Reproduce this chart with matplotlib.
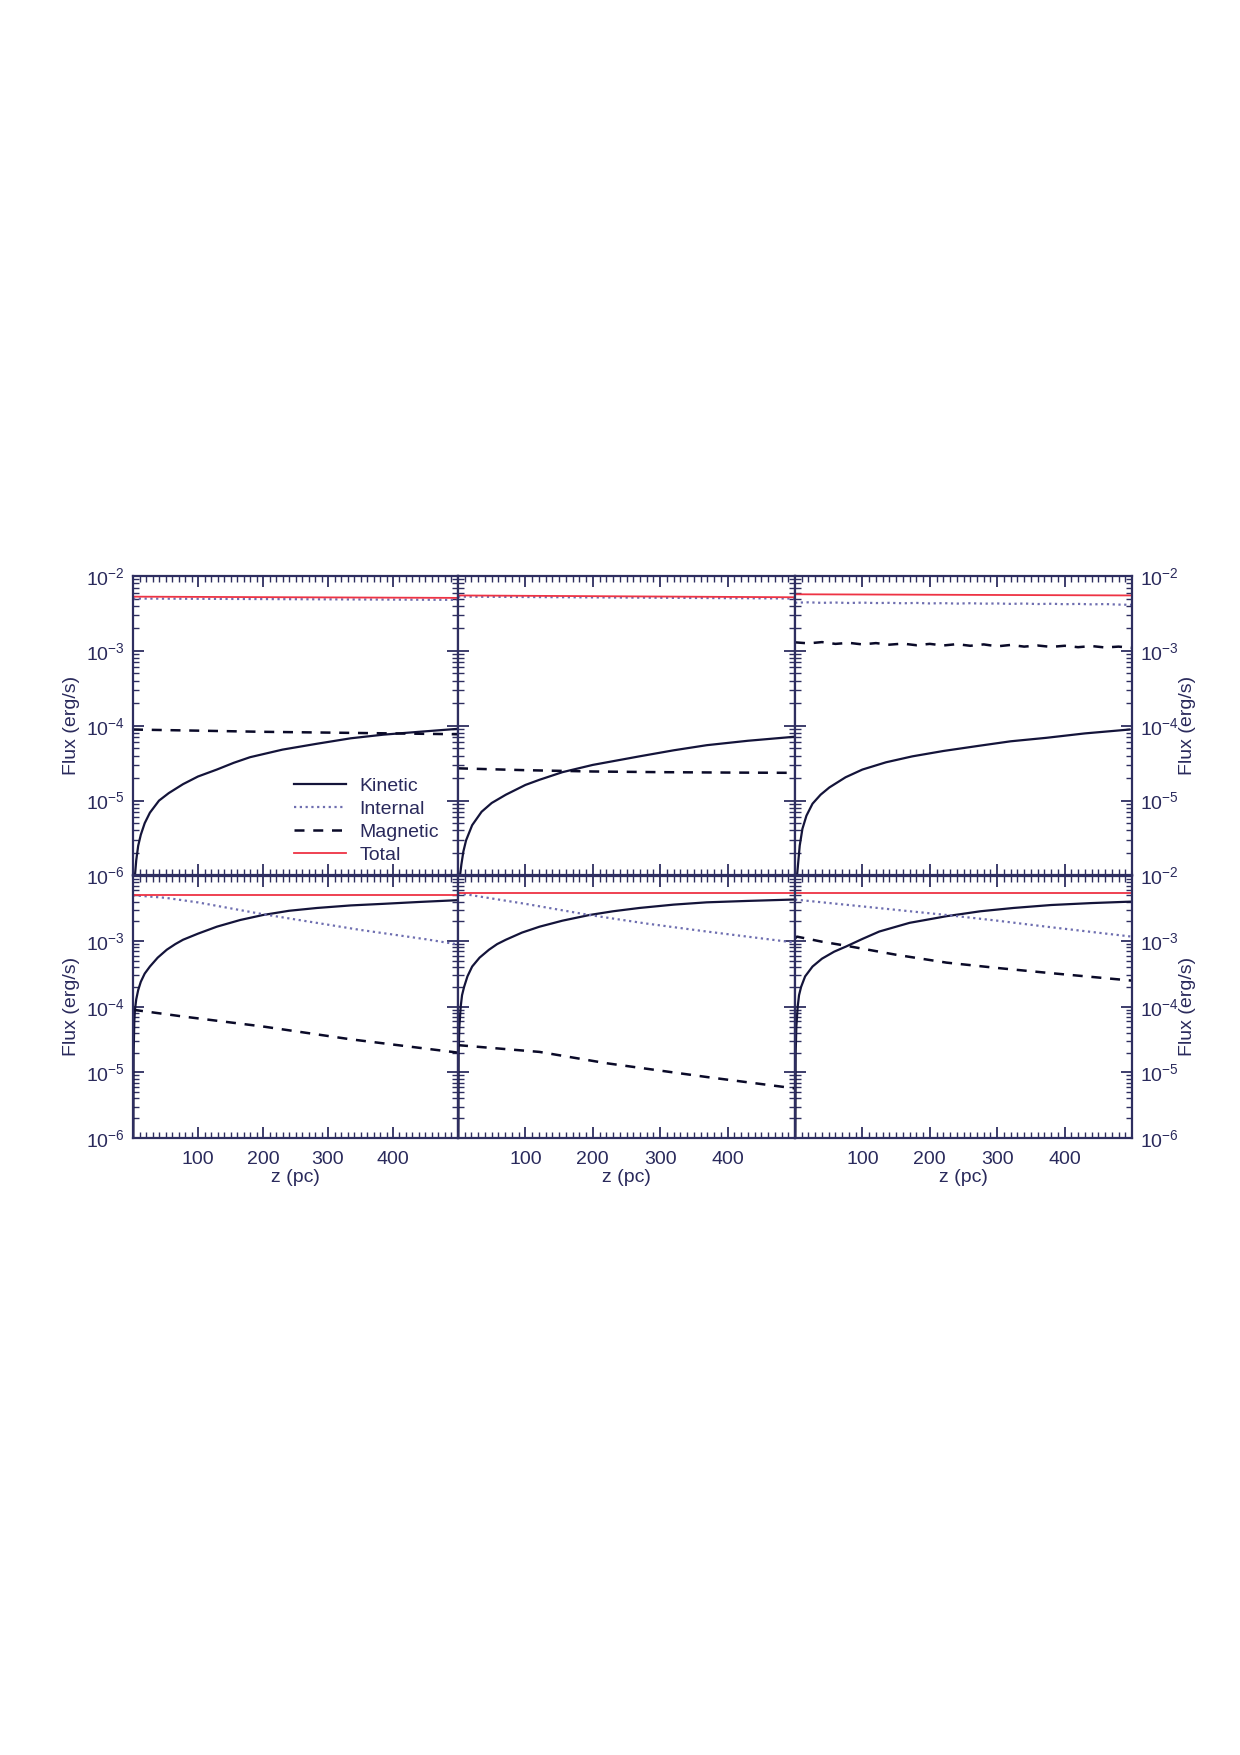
import matplotlib
matplotlib.use("Agg")
import matplotlib.pyplot as plt
from matplotlib.ticker import MultipleLocator, LogLocator, FuncFormatter, NullFormatter
import numpy as np

plt.rcParams['font.family'] = ['Liberation Sans', 'DejaVu Sans']
plt.rcParams['mathtext.default'] = 'regular'

# ---- data (flux in erg/s, z in pc) ----
# top row
p1_kin_z = [0.5, 3, 5, 8, 12, 18, 26, 40, 55, 77, 100, 129, 155, 180, 230, 283,
            335, 385, 440, 500]
p1_kin = [3e-7, 1.0e-6, 1.6e-6, 2.5e-6, 3.5e-6, 5.0e-6, 6.9e-6, 1.0e-5, 1.26e-5,
          1.66e-5, 2.1e-5, 2.6e-5, 3.2e-5, 3.8e-5, 4.8e-5, 5.75e-5, 6.8e-5,
          7.6e-5, 8.3e-5, 9.1e-5]
p1_int_z = [0, 500]
p1_int = [5.0e-3, 4.8e-3]
p1_mag_z = [0, 100, 200, 300, 400, 500]
p1_mag = [8.9e-5, 8.6e-5, 8.3e-5, 8.1e-5, 7.9e-5, 7.7e-5]
p1_tot_z = [0, 500]
p1_tot = [5.3e-3, 5.1e-3]

p2_kin_z = [0.5, 3, 5, 8, 12, 21, 35, 50, 71, 100, 121, 155, 200, 269, 320, 369,
            430, 497]
p2_kin = [3e-7, 1.0e-6, 1.4e-6, 2.1e-6, 2.95e-6, 4.7e-6, 7.1e-6, 9.3e-6, 1.2e-5,
          1.62e-5, 1.9e-5, 2.4e-5, 3.0e-5, 3.9e-5, 4.7e-5, 5.5e-5, 6.3e-5, 7.1e-5]
p2_int_z = [0, 500]
p2_int = [5.3e-3, 5.0e-3]
p2_mag_z = [0, 100, 200, 300, 400, 500]
p2_mag = [2.7e-5, 2.55e-5, 2.45e-5, 2.4e-5, 2.37e-5, 2.35e-5]
p2_tot_z = [0, 500]
p2_tot = [5.5e-3, 5.2e-3]

p3_kin_z = [0.5, 2, 4, 7, 11, 17, 26, 38, 51, 75, 100, 135, 174, 220, 273, 320,
            373, 430, 496]
p3_kin = [3e-7, 8e-7, 1.25e-6, 2.5e-6, 4.2e-6, 6.3e-6, 9.1e-6, 1.2e-5, 1.5e-5,
          2.05e-5, 2.6e-5, 3.25e-5, 3.9e-5, 4.6e-5, 5.4e-5, 6.2e-5, 6.9e-5,
          7.9e-5, 8.9e-5]
p3_int_z = list(range(0, 501, 20))
p3_int = [4.40e-3, 4.45e-3, 4.38e-3, 4.42e-3, 4.36e-3, 4.41e-3, 4.35e-3, 4.38e-3,
          4.32e-3, 4.37e-3, 4.30e-3, 4.34e-3, 4.28e-3, 4.33e-3, 4.27e-3, 4.30e-3,
          4.24e-3, 4.29e-3, 4.22e-3, 4.26e-3, 4.20e-3, 4.24e-3, 4.18e-3, 4.22e-3,
          4.15e-3, 4.12e-3]
p3_mag_z = list(range(0, 501, 20))
p3_mag = [1.30e-3, 1.26e-3, 1.31e-3, 1.24e-3, 1.28e-3, 1.22e-3, 1.27e-3, 1.21e-3,
          1.25e-3, 1.19e-3, 1.24e-3, 1.18e-3, 1.23e-3, 1.17e-3, 1.22e-3, 1.15e-3,
          1.20e-3, 1.14e-3, 1.18e-3, 1.13e-3, 1.17e-3, 1.12e-3, 1.16e-3, 1.11e-3,
          1.14e-3, 1.10e-3]
p3_tot_z = [0, 500]
p3_tot = [5.7e-3, 5.5e-3]

# bottom row
p4_kin_z = [0.3, 1, 2, 3, 5, 8, 12, 18, 26, 38, 52, 65, 77, 100, 129, 165, 200,
            240, 283, 335, 385, 440, 498]
p4_kin = [1e-7, 2e-5, 6e-5, 9e-5, 1.3e-4, 1.8e-4, 2.4e-4, 3.2e-4, 4.1e-4, 5.6e-4,
          7.4e-4, 9.0e-4, 1.05e-3, 1.3e-3, 1.66e-3, 2.1e-3, 2.5e-3, 2.9e-3,
          3.2e-3, 3.5e-3, 3.7e-3, 3.95e-3, 4.2e-3]
p4_int_z = [0, 50, 100, 150, 200, 250, 300, 350, 400, 450, 500]
p4_int = [5.0e-3, 4.57e-3, 3.89e-3, 3.16e-3, 2.57e-3, 2.14e-3, 1.78e-3, 1.48e-3,
          1.26e-3, 1.07e-3, 8.9e-4]
p4_mag_z = [0, 77, 200, 334, 500]
p4_mag = [9.0e-5, 7.1e-5, 5.0e-5, 3.2e-5, 2.0e-5]
p4_tot_z = [0, 500]
p4_tot = [5.1e-3, 5.1e-3]

p5_kin_z = [0.3, 1, 2, 4, 6, 9, 14, 21, 32, 46, 58, 71, 95, 121, 155, 195, 230,
            269, 320, 369, 430, 497]
p5_kin = [1e-7, 2e-5, 5e-5, 1.0e-4, 1.5e-4, 2.0e-4, 2.9e-4, 4.1e-4, 5.6e-4,
          7.4e-4, 9.0e-4, 1.05e-3, 1.35e-3, 1.66e-3, 2.05e-3, 2.5e-3, 2.85e-3,
          3.2e-3, 3.6e-3, 3.9e-3, 4.1e-3, 4.3e-3]
p5_int_z = [0, 100, 195, 280, 369, 500]
p5_int = [5.4e-3, 3.7e-3, 2.5e-3, 1.85e-3, 1.4e-3, 9.5e-4]
p5_mag_z = [0, 121, 220, 369, 500]
p5_mag = [2.6e-5, 2.05e-5, 1.38e-5, 8.5e-6, 5.7e-6]
p5_tot_z = [0, 500]
p5_tot = [5.4e-3, 5.4e-3]

p6_kin_z = [0.3, 1, 2, 4, 6, 9, 15, 26, 40, 58, 76, 100, 125, 170, 225, 275, 324,
            380, 440, 499]
p6_kin = [1e-7, 2e-5, 5e-5, 1.0e-4, 1.5e-4, 2.0e-4, 2.9e-4, 4.1e-4, 5.4e-4,
          6.9e-4, 8.3e-4, 1.08e-3, 1.4e-3, 1.9e-3, 2.4e-3, 2.85e-3, 3.2e-3,
          3.55e-3, 3.8e-3, 4.0e-3]
p6_int_z = [0, 110, 225, 300, 373, 500]
p6_int = [4.3e-3, 3.3e-3, 2.5e-3, 2.05e-3, 1.66e-3, 1.17e-3]
p6_mag_z = [0, 3, 40, 76, 150, 225, 300, 373, 500]
p6_mag = [1.1e-3, 1.17e-3, 9.8e-4, 8.5e-4, 6.2e-4, 4.7e-4, 3.9e-4, 3.3e-4, 2.5e-4]
p6_tot_z = [0, 500]
p6_tot = [5.5e-3, 5.5e-3]

panels = [
    (p1_kin_z, p1_kin, p1_int_z, p1_int, p1_mag_z, p1_mag, p1_tot_z, p1_tot),
    (p2_kin_z, p2_kin, p2_int_z, p2_int, p2_mag_z, p2_mag, p2_tot_z, p2_tot),
    (p3_kin_z, p3_kin, p3_int_z, p3_int, p3_mag_z, p3_mag, p3_tot_z, p3_tot),
    (p4_kin_z, p4_kin, p4_int_z, p4_int, p4_mag_z, p4_mag, p4_tot_z, p4_tot),
    (p5_kin_z, p5_kin, p5_int_z, p5_int, p5_mag_z, p5_mag, p5_tot_z, p5_tot),
    (p6_kin_z, p6_kin, p6_int_z, p6_int, p6_mag_z, p6_mag, p6_tot_z, p6_tot),
]
labels = ['Kinetic', 'Internal', 'Magnetic', 'Total']

# ---- layout (pixels in a 1240x1755 page) ----
W, H = 1240, 1755
col_edges = [133, 458, 795, 1132]
row_edges = [576, 875.5, 1138]
axc = '#2e2e60'
txtc = '#2a2a5c'
fs = 14

fig = plt.figure(figsize=(W / 100, H / 100), dpi=100)


def log_label(hide_top=False, hide_bottom=False):
    def fmt(v, pos):
        e = int(round(np.log10(v)))
        if hide_top and e == -2:
            return ''
        if hide_bottom and e == -6:
            return ''
        return r'$10^{%d}$' % e
    return FuncFormatter(fmt)


axes = []
for r in range(2):
    for c in range(3):
        x0, x1 = col_edges[c], col_edges[c + 1]
        y0, y1 = row_edges[r], row_edges[r + 1]
        ax = fig.add_axes([x0 / W, 1 - y1 / H, (x1 - x0) / W, (y1 - y0) / H])
        axes.append(ax)

        kz, kv, iz, iv, mz, mv, tz, tv = panels[r * 3 + c]
        ax.plot(kz, kv, color='#14143a', lw=1.6, ls='-', label=labels[0])
        ax.plot(iz, iv, color='#6e6eb0', lw=1.6, ls=(0, (1, 1.6)), label=labels[1])
        ax.plot(mz, mv, color='#0a0a28', lw=1.8, ls=(0, (4, 3.5)), label=labels[2])
        ax.plot(tz, tv, color='#ee3344', lw=1.3, ls='-', label=labels[3])

        ax.set_yscale('log')
        ax.set_xlim(0, 500)
        ax.set_ylim(1e-6, 1e-2)
        ax.xaxis.set_major_locator(MultipleLocator(100))
        ax.xaxis.set_minor_locator(MultipleLocator(10))
        ax.yaxis.set_major_locator(LogLocator(base=10))
        ax.yaxis.set_minor_locator(LogLocator(base=10, subs=np.arange(2, 10)))
        ax.yaxis.set_minor_formatter(NullFormatter())

        ax.tick_params(which='both', direction='in', top=True, bottom=True,
                       left=True, right=True, color=axc, labelcolor=txtc,
                       labelsize=fs)
        ax.tick_params(which='major', length=8, width=1.3, pad=6)
        ax.tick_params(which='minor', length=4, width=1.0)
        ax.tick_params(axis='x', which='major', pad=9)
        for s in ax.spines.values():
            s.set_color(axc)
            s.set_linewidth(1.6)

        if r == 0:
            ax.xaxis.set_major_formatter(NullFormatter())
        else:
            # frame ticks at 0 and 500 stay unlabeled
            ax.xaxis.set_major_formatter(FuncFormatter(
                lambda v, p: '' if v <= 0 or v >= 500 else '%d' % v))
            ax.set_xlabel('z (pc)', fontsize=fs, color=txtc, labelpad=1)

        if c == 0:
            ax.yaxis.set_major_formatter(log_label(hide_top=(r == 1)))
            ax.set_ylabel('Flux (erg/s)', fontsize=fs, color=txtc, labelpad=4)
        elif c == 2:
            ax.yaxis.tick_right()
            ax.tick_params(which='both', left=True, right=True)
            ax.yaxis.set_label_position('right')
            ax.yaxis.set_major_formatter(log_label(hide_bottom=(r == 0)))
            ax.set_ylabel('Flux (erg/s)', fontsize=fs, color=txtc, labelpad=0)
        else:
            ax.yaxis.set_major_formatter(NullFormatter())

leg = axes[0].legend(loc='lower left', bbox_to_anchor=(0.47, 0.012), frameon=False,
                     fontsize=fs, handlelength=2.7, handletextpad=0.7,
                     labelspacing=0.28, borderaxespad=0)
for t in leg.get_texts():
    t.set_color(txtc)

fig.savefig('out.png', dpi=100)
